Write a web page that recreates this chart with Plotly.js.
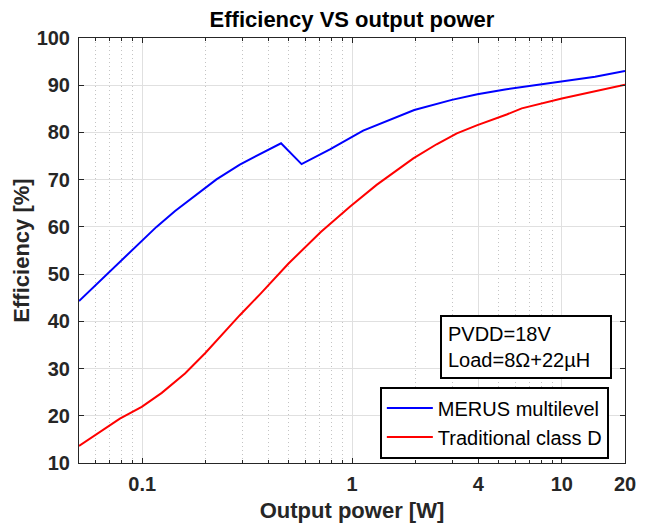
<!DOCTYPE html>
<html><head><meta charset="utf-8">
<script src="https://cdn.plot.ly/plotly-3.0.1.min.js"></script>
<style>html,body{margin:0;padding:0;background:#fff}</style>
</head><body>
<div id="chart" style="width:654px;height:524px"></div>
<script>
// Data
const merusPower = [0.05, 0.117, 0.1435, 0.226, 0.292, 0.372, 0.459, 0.575, 0.785, 1.13, 1.98, 2.99, 3.96, 5.36, 10, 14.4, 20];
const merusEff   = [44.3, 60.0, 63.35, 70.06, 73.2, 75.7, 77.7, 73.3, 76.4, 80.4, 84.75, 86.9, 88.07, 89.1, 90.9, 91.8, 93.0];
const classDPower = [0.05, 0.0596, 0.0783, 0.0995, 0.124, 0.16, 0.2, 0.292, 0.365, 0.497, 0.71, 0.98, 1.31, 1.96, 2.53, 3.16, 3.93, 5.46, 6.44, 10, 14.4, 20];
const classDEff   = [13.6, 15.9, 19.4, 21.9, 24.85, 28.96, 33.3, 41.3, 45.76, 52.2, 58.9, 64.3, 68.9, 74.5, 77.5, 79.8, 81.5, 83.8, 85.1, 87.2, 88.8, 90.1];
const xTickVals = [0.1, 1, 4, 10, 20];
const xTickText = ['0.1', '1', '4', '10', '20'];
const yTickVals = [10, 20, 30, 40, 50, 60, 70, 80, 90, 100];
const seriesNames = ['MERUS multilevel', 'Traditional class D'];
const noteText = 'PVDD=18V<br>Load=8Ω+22µH';

// minor log grid positions (axis decoration)
const minorVals = [];
[0.01, 0.1, 1, 10].forEach(d => { for (let k = 2; k <= 9; k++) { const v = +(d * k).toPrecision(3); if (v > 0.05 && v < 20 && xTickVals.indexOf(v) < 0) minorVals.push(v); } });

const fontFam = '"Liberation Sans", Arial, sans-serif';
const traces = [
  {x: merusPower, y: merusEff, name: seriesNames[0], type: 'scatter', mode: 'lines', line: {color: '#0000ff', width: 2}},
  {x: classDPower, y: classDEff, name: seriesNames[1], type: 'scatter', mode: 'lines', line: {color: '#ff0000', width: 2}}
];
const layout = {
  width: 654, height: 524,
  margin: {l: 79, r: 29, t: 38, b: 61},
  paper_bgcolor: '#fff', plot_bgcolor: '#fff',
  font: {family: fontFam, color: '#262626'},
  title: {text: '<b>Efficiency VS output power</b>', font: {size: 22, color: '#000', family: fontFam}, x: 0.5, xref: 'paper', xanchor: 'center', y: 0.964, yanchor: 'middle'},
  xaxis: {
    type: 'log', range: [Math.log10(0.05), Math.log10(20)],
    tickmode: 'array', tickvals: xTickVals, ticktext: xTickText.map(t => '<b>' + t + '</b>'),
    tickfont: {size: 20, color: '#262626'}, ticklabelstandoff: 3,
    ticks: 'inside', ticklen: 5, tickcolor: '#262626',
    showline: true, linecolor: '#262626', linewidth: 1, mirror: 'allticks',
    showgrid: true, gridcolor: '#e0e0e0', gridwidth: 1,
    minor: {tickmode: 'array', tickvals: minorVals, ticks: 'inside', ticklen: 3, tickcolor: '#262626', showgrid: true, gridcolor: '#c4c4c4', griddash: '1px,3px', gridwidth: 1},
    zeroline: false,
    title: {text: '<b>Output power [W]</b>', font: {size: 22, color: '#262626'}, standoff: 8}
  },
  yaxis: {
    range: [10, 100], tickmode: 'array', tickvals: yTickVals,
    ticktext: yTickVals.map(t => '<b>' + t + '</b>'),
    tickfont: {size: 20, color: '#262626'}, ticklabelstandoff: 4,
    ticks: 'inside', ticklen: 5, tickcolor: '#262626',
    showline: true, linecolor: '#262626', linewidth: 1, mirror: 'allticks',
    showgrid: true, gridcolor: '#e0e0e0', gridwidth: 1, zeroline: false,
    title: {text: '<b>Efficiency [%]</b>', font: {size: 22, color: '#262626'}, standoff: 0}
  },
  showlegend: true,
  legend: {
    x: 0.551, y: 0.18, xanchor: 'left', yanchor: 'top',
    bgcolor: '#fff', bordercolor: '#000', borderwidth: 2,
    font: {size: 20, color: '#000', family: fontFam},
    itemwidth: 46, tracegroupgap: 0
  },
  annotations: [{
    xref: 'paper', yref: 'paper', x: 0.976, y: 0.348, xanchor: 'right', yanchor: 'top',
    text: noteText, showarrow: false, align: 'left', width: 156,
    font: {size: 20, color: '#000', family: fontFam},
    bgcolor: '#fff', bordercolor: '#000', borderwidth: 2, borderpad: 6
  }]
};
Plotly.newPlot('chart', traces, layout, {displayModeBar: false, staticPlot: true});
</script>
</body></html>
